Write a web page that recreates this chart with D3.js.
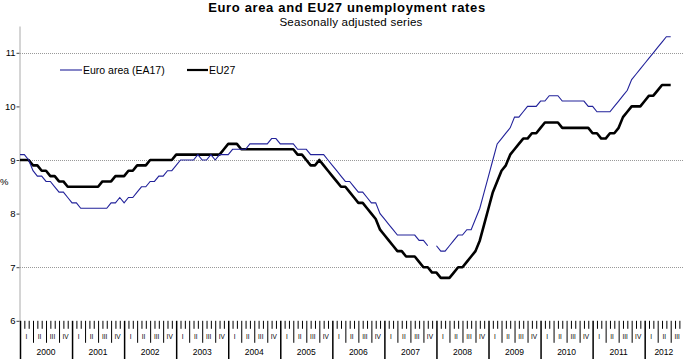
<!DOCTYPE html>
<html><head><meta charset="utf-8">
<script src="https://cdn.jsdelivr.net/npm/d3@7"></script>
<style>
body{margin:0;background:#fff;}
svg{display:block;font-family:"Liberation Sans",Arial,sans-serif;}
</style>
</head><body>
<svg id="c" width="683" height="359"></svg>
<script>
const years = [2000,2001,2002,2003,2004,2005,2006,2007,2008,2009,2010,2011,2012];
const quarterLabels = ["I","II","III","IV"];
const yTicks = [6,7,8,9,10,11];
const gridValues = [7,9,11];
const seriesNames = ["Euro area (EA17)","EU27"];

// monthly values Jan 2000 - Jul 2012
const euroArea = [
  9.1,9.1,9.0,8.8,8.7,8.7,8.6,8.6,8.5,8.4,8.4,8.3,
  8.2,8.2,8.1,8.1,8.1,8.1,8.1,8.1,8.1,8.2,8.2,8.3,
  8.2,8.3,8.3,8.4,8.5,8.5,8.6,8.6,8.7,8.7,8.8,8.8,
  8.9,9.0,9.0,9.0,9.0,9.1,9.0,9.0,9.1,9.0,9.1,9.1,
  9.1,9.2,9.2,9.2,9.2,9.3,9.3,9.3,9.3,9.3,9.4,9.4,
  9.3,9.3,9.3,9.3,9.2,9.2,9.2,9.1,9.1,9.1,9.1,9.0,
  8.9,8.8,8.7,8.6,8.6,8.5,8.4,8.4,8.3,8.2,8.2,8.0,
  7.9,7.8,7.7,7.6,7.6,7.6,7.6,7.6,7.5,7.5,7.4,null,
  7.4,7.3,7.3,7.4,7.5,7.6,7.6,7.7,7.7,7.9,8.1,8.4,
  8.7,9.0,9.3,9.4,9.5,9.6,9.8,9.8,9.9,10.0,10.0,10.0,
  10.1,10.1,10.2,10.2,10.2,10.1,10.1,10.1,10.1,10.1,10.1,10.0,
  10.0,9.9,9.9,9.9,9.9,10.0,10.1,10.2,10.3,10.5,10.6,10.7,
  10.8,10.9,11.0,11.1,11.2,11.3,11.3
];
const eu27 = [
  9.0,9.0,9.0,8.9,8.9,8.8,8.8,8.7,8.7,8.6,8.6,8.5,
  8.5,8.5,8.5,8.5,8.5,8.5,8.5,8.6,8.6,8.6,8.7,8.7,
  8.7,8.8,8.8,8.9,8.9,8.9,9.0,9.0,9.0,9.0,9.0,9.0,
  9.1,9.1,9.1,9.1,9.1,9.1,9.1,9.1,9.1,9.1,9.1,9.2,
  9.3,9.3,9.3,9.2,9.2,9.2,9.2,9.2,9.2,9.2,9.2,9.2,
  9.2,9.2,9.2,9.2,9.1,9.1,9.0,8.9,8.9,9.0,8.9,8.8,
  8.7,8.6,8.5,8.5,8.4,8.3,8.2,8.2,8.1,8.0,7.9,7.7,
  7.6,7.5,7.4,7.3,7.3,7.2,7.2,7.2,7.1,7.0,7.0,6.9,
  6.9,6.8,6.8,6.8,6.9,7.0,7.0,7.1,7.2,7.3,7.5,7.8,
  8.1,8.4,8.6,8.8,8.9,9.1,9.2,9.3,9.4,9.4,9.5,9.5,
  9.6,9.7,9.7,9.7,9.7,9.6,9.6,9.6,9.6,9.6,9.6,9.6,
  9.5,9.5,9.4,9.4,9.5,9.5,9.6,9.8,9.9,10.0,10.0,10.0,
  10.1,10.2,10.2,10.3,10.4,10.4,10.4
];

const svg = d3.select("#c");
const W = 683, H = 359;
const monthW = 4.338;
const x0 = 20;
const nAxisMonths = 153; // axis runs to end of Q3 2012
const x = d3.scaleLinear().domain([0, nAxisMonths]).range([x0, x0 + nAxisMonths*monthW]);
const y = d3.scaleLinear().domain([6, 11.5]).range([320.8, 26]);
const yBase = y(6);

// title
svg.append("text").attr("x", 347).attr("y", 12).attr("text-anchor","middle")
  .attr("font-weight","bold").attr("font-size", 13).attr("letter-spacing", 0.65)
  .text("Euro area and EU27 unemployment rates");
svg.append("text").attr("x", 351).attr("y", 25.5).attr("text-anchor","middle")
  .attr("font-size", 11.6).attr("letter-spacing", 0.2).text("Seasonally adjusted series");

// gridlines
svg.append("g").selectAll("line").data(gridValues).join("line")
  .attr("x1", x0).attr("x2", W).attr("y1", d=>Math.round(y(d))+0.5).attr("y2", d=>Math.round(y(d))+0.5)
  .attr("stroke","#999").attr("stroke-width",1).attr("stroke-dasharray","1,1");

// y axis
const gy = svg.append("g").attr("transform", `translate(${x0-0.5},0)`)
  .call(d3.axisLeft(y).tickValues(yTicks).tickSize(3).tickSizeOuter(0).tickPadding(1).tickFormat(d3.format("d")));
gy.select(".domain").attr("stroke","#aaa");
gy.selectAll(".tick line").attr("stroke","#444");
gy.selectAll(".tick text").attr("font-size", 9.5).attr("fill","#000").attr("font-family","Liberation Sans, Arial, sans-serif");
svg.append("text").attr("x", 0).attr("y", 185).attr("font-size", 9.5).text("%");

// x axis: month, quarter, year ticks
const allMonths = d3.range(0, nAxisMonths + 1);
const monthTicks = allMonths.filter(m => m % 3 !== 0);
const quarterTicks = allMonths.filter(m => m % 3 === 0 && m % 12 !== 0);
const yearTicks = allMonths.filter(m => m % 12 === 0);

function styleAxis(g, w){
  g.select(".domain").remove();
  g.selectAll(".tick line").attr("stroke","#000").attr("stroke-width", w);
  g.selectAll(".tick text").remove();
}
svg.append("g").attr("transform",`translate(0,${yBase})`)
  .call(d3.axisBottom(x).tickValues(monthTicks).tickSize(8).tickFormat(""))
  .call(g => styleAxis(g, 1));
svg.append("g").attr("transform",`translate(0,${yBase})`)
  .call(d3.axisBottom(x).tickValues(quarterTicks).tickSize(22).tickFormat(""))
  .call(g => styleAxis(g, 1));
svg.append("g").attr("transform",`translate(0,${yBase})`)
  .call(d3.axisBottom(x).tickValues(yearTicks).tickSize(40).tickFormat(""))
  .call(g => styleAxis(g, 1.5));

// quarter labels
const quarters = d3.range(0, nAxisMonths/3).map(q => ({q, label: quarterLabels[q % 4]}));
svg.append("g").selectAll("text").data(quarters).join("text")
  .attr("x", d => x(d.q*3 + 1.5)).attr("y", yBase + 18.5)
  .attr("text-anchor","middle").attr("font-size", 6.5).attr("fill","#000").text(d => d.label);

// year labels
svg.append("g").selectAll("text").data(years).join("text")
  .attr("x", (d,i) => { const a = x(i*12), b = Math.min(x((i+1)*12), W); return (a+b)/2; })
  .attr("y", yBase + 34.5).attr("text-anchor","middle").attr("font-size", 8.5).text(d => d);

// lines
const line = d3.line().defined(d => d != null).x((d,i) => x(i)).y(d => y(d));
svg.append("path").datum(eu27).attr("d", line).attr("fill","none")
  .attr("stroke","#000").attr("stroke-width",2.6).attr("stroke-linejoin","round");
svg.append("path").datum(euroArea).attr("d", line).attr("fill","none")
  .attr("stroke","#22229a").attr("stroke-width",1.1);

// legend
const leg = svg.append("g");
const legItems = [
  {name: seriesNames[0], color:"#22229a", w:1.1, x1:60, x2:82},
  {name: seriesNames[1], color:"#000", w:2.2, x1:187, x2:208}
];
legItems.forEach(it => {
  leg.append("line").attr("x1", it.x1).attr("x2", it.x2).attr("y1", 70).attr("y2", 70)
    .attr("stroke", it.color).attr("stroke-width", it.w);
  leg.append("text").attr("x", it.x2 + 1).attr("y", 73.8).attr("font-size", 10.5).text(it.name);
});
</script>
</body></html>
